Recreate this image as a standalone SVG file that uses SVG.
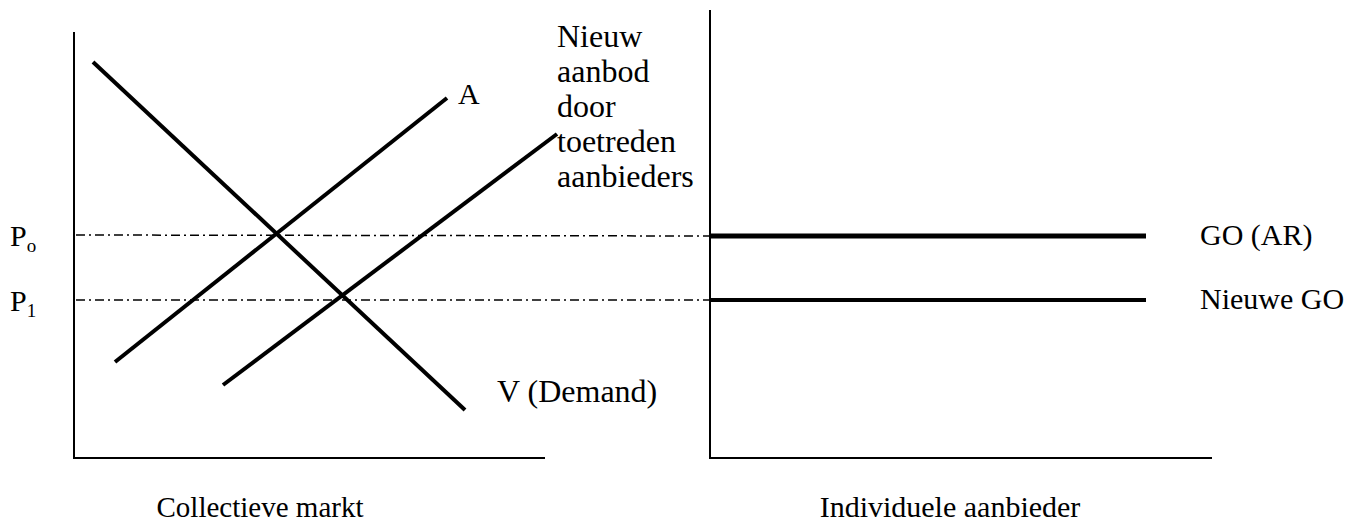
<svg xmlns="http://www.w3.org/2000/svg" width="1364" height="526" viewBox="0 0 1364 526">
  <style>
    .axis { stroke: #000; stroke-width: 2; fill: none; }
    .curve { stroke: #000; stroke-width: 4; fill: none; }
    .price { stroke: #000; stroke-width: 1.5; stroke-dasharray: 9 4 2 4; fill: none; }
    .rev { stroke: #000; stroke-width: 5; fill: none; }
    text { font-family: "Liberation Serif", "DejaVu Serif", serif; font-size: 30px; fill: #000; }
    .big { font-size: 32px; }
    .sub { font-size: 19px; }
  </style>
  <rect width="1364" height="526" fill="#fff"/>

  <!-- left panel: market -->
  <g id="market-axes">
    <line class="axis" x1="74" y1="32" x2="74" y2="458"/>
    <line class="axis" x1="73" y1="458" x2="545" y2="458"/>
  </g>
  <g id="individual-axes">
    <line class="axis" x1="710" y1="10" x2="710" y2="458"/>
    <line class="axis" x1="709" y1="458" x2="1212" y2="458"/>
  </g>

  <g id="connectors">
    <!-- price levels carried across both panels -->
    <line class="price" x1="76" y1="235" x2="710" y2="236"/>
    <line class="price" x1="76" y1="300" x2="710" y2="300"/>
  </g>

  <g id="demand">
    <line class="curve" x1="93" y1="62" x2="465" y2="410"/>
    <text class="big" x="497" y="402">V (Demand)</text>
  </g>
  <g id="supply-a">
    <line class="curve" x1="115" y1="362" x2="447" y2="98"/>
    <text x="458" y="104">A</text>
  </g>
  <g id="supply-new">
    <line class="curve" x1="223" y1="385" x2="557" y2="134"/>
    <text class="big" x="557" y="47">Nieuw</text>
    <text class="big" x="557" y="82">aanbod</text>
    <text class="big" x="557" y="117">door</text>
    <text class="big" x="557" y="152">toetreden</text>
    <text class="big" x="557" y="187">aanbieders</text>
  </g>
  <g id="price-labels">
    <text x="10" y="246">P<tspan class="sub" dy="6">o</tspan></text>
    <text x="10" y="311">P<tspan class="sub" dy="6">1</tspan></text>
  </g>

  <!-- right panel: individual supplier -->
  <g id="go-ar">
    <line class="rev" x1="710" y1="236" x2="1146" y2="236"/>
    <text x="1200" y="245">GO (AR)</text>
  </g>
  <g id="go-new">
    <line class="rev" x1="710" y1="300" x2="1146" y2="300" style="stroke-width:4"/>
    <text x="1200" y="309">Nieuwe GO</text>
  </g>

  <g id="captions">
    <text x="260" y="517" text-anchor="middle" style="font-size:29px">Collectieve markt</text>
    <text x="950" y="517" text-anchor="middle">Individuele aanbieder</text>
  </g>
</svg>
